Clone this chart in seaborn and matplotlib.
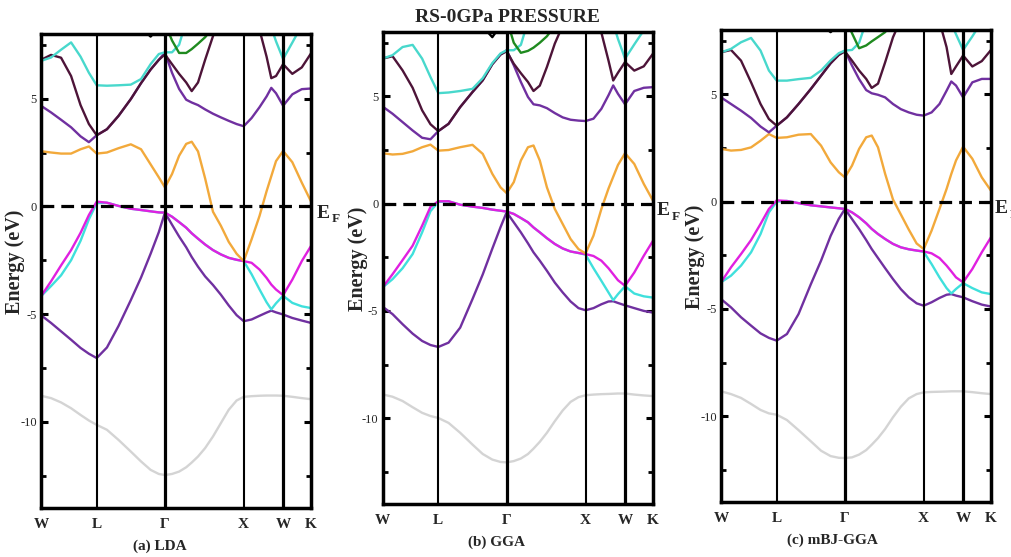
import numpy as np
import pandas as pd
import matplotlib
matplotlib.use("Agg")
import matplotlib.pyplot as plt
import seaborn as sns

# fcc path W-L-Γ-X-W-K, segment lengths in units of 2π/a
SEG_LEN = [0.707, 0.866, 1.0, 0.5, 0.354]
SEG_FRAC = [
    [0, 0.18, 0.36, 0.54, 0.71, 0.86],
    [0, 0.15, 0.32, 0.50, 0.65, 0.79, 0.91],
    [0, 0.09, 0.18, 0.27, 0.34, 0.42, 0.51, 0.61, 0.71, 0.81, 0.91],
    [0, 0.20, 0.40, 0.58, 0.70, 0.82],
    [0, 0.33, 0.67, 1.0],
]
KLABELS = ["W", "L", "Γ", "X", "W", "K"]

# ---- (a) LDA band energies (eV) ----
LDA_CORE = [-8.79, -8.90, -9.10, -9.37, -9.68, -9.94,
            -10.14, -10.37, -10.84, -11.38, -11.84, -12.23, -12.42,
            -12.47, -12.42, -12.31, -12.11, -11.89, -11.61, -11.22, -10.68, -10.06, -9.44, -9.01,
            -8.84, -8.81, -8.79, -8.78, -8.78, -8.78,
            -8.79, -8.84, -8.90, -8.95]
LDA_VB1 = [-5.05, -5.41, -5.80, -6.19, -6.57, -6.84,
           -7.04, -6.55, -5.55, -4.35, -3.30, -2.20, -1.20,
           -0.29, -0.85, -1.40, -1.90, -2.35, -2.80, -3.25, -3.65, -4.10, -4.60, -5.05,
           -5.33, -5.25, -5.08, -4.93, -4.84, -4.92,
           -5.02, -5.18, -5.30, -5.41]
LDA_VB2 = [-4.17, -3.70, -3.20, -2.50, -1.60, -0.60,
           0.15, 0.17, 0.02, -0.11, -0.17, -0.23, -0.28,
           -0.29, -0.48, -0.73, -0.99, -1.25, -1.50, -1.77, -2.03, -2.23, -2.39, -2.48,
           -2.54, -3.15, -3.85, -4.45, -4.78, -4.50,
           -4.15, -4.48, -4.64, -4.72]
LDA_VB3 = [-4.17, -3.48, -2.74, -2.03, -1.23, -0.40,
           0.22, 0.17, 0.02, -0.11, -0.17, -0.23, -0.28,
           -0.29, -0.48, -0.73, -0.99, -1.25, -1.50, -1.77, -2.03, -2.23, -2.39, -2.48,
           -2.54, -2.62, -2.93, -3.32, -3.63, -3.86,
           -4.12, -3.40, -2.54, -1.84]
LDA_CB1 = [2.56, 2.50, 2.45, 2.45, 2.65, 2.78,
           2.45, 2.50, 2.70, 2.88, 2.65, 1.95, 1.35,
           0.88, 1.50, 2.35, 2.90, 3.00, 2.55, 1.30, -0.25, -0.90, -1.65, -2.20,
           -2.54, -1.53, -0.45, 0.70, 1.40, 2.10,
           2.57, 2.05, 1.10, 0.23]
LDA_CB2 = [4.67, 4.36, 4.02, 3.67, 3.25, 2.98,
           3.30, 3.58, 4.20, 4.98, 5.72, 6.35, 6.80,
           7.14, 6.20, 5.45, 4.95, 4.82, 4.70, 4.50, 4.30, 4.13, 3.97, 3.82,
           3.72, 4.10, 4.60, 5.10, 5.50, 5.25,
           4.67, 5.20, 5.44, 5.47]
LDA_CB3 = [6.80, 7.03, 6.90, 6.05, 4.70, 3.82,
           3.30, 3.58, 4.20, 4.98, 5.72, 6.35, 6.80,
           7.05, 6.60, 6.15, 5.75, 5.35, 5.75, 6.80, 7.90, 8.80, 9.50, 10.0,
           10.2, 9.20, 8.20, 6.95, 5.95, 6.05,
           6.60, 6.15, 6.45, 7.10]
LDA_CB4 = [6.75, 6.91, 7.27, 7.61, 6.95, 6.20,
           5.62, 5.60, 5.62, 5.65, 5.91, 6.60, 7.07,
           7.15, 7.15, 7.50, 8.60, 9.30, 9.80, 10.2, 10.5, 10.6, 10.5, 10.3,
           10.0, 9.70, 9.30, 8.80, 8.30, 7.66,
           6.84, 7.60, 8.40, 9.00]
LDA_CB5 = [8.50, 7.70, 7.12, 7.12, 7.30, 7.55, 7.85, 8.30, 8.80]   # from Γ
LDA_CB6 = [8.30, 7.88, 8.30]                                       # near L-Γ midpoint

# ---- (b) GGA ----
GGA_CORE = [-8.89, -9.00, -9.20, -9.49, -9.75, -9.90,
            -9.99, -10.22, -10.68, -11.23, -11.67, -11.93, -12.04,
            -12.06, -12.00, -11.88, -11.67, -11.42, -11.10, -10.68, -10.14, -9.64, -9.24, -9.02,
            -8.93, -8.90, -8.88, -8.87, -8.86, -8.85,
            -8.85, -8.90, -8.94, -8.97]
GGA_VB1 = [-4.80, -5.15, -5.62, -6.06, -6.40, -6.59,
           -6.68, -6.48, -5.78, -4.45, -3.30, -2.10, -1.10,
           -0.40, -0.87, -1.34, -1.85, -2.27, -2.66, -3.13, -3.68, -4.14, -4.56, -4.87,
           -4.97, -4.87, -4.69, -4.56, -4.55, -4.63,
           -4.74, -4.87, -5.00, -5.08]
GGA_VB2 = [-3.91, -3.52, -3.01, -2.35, -1.34, -0.35,
           0.08, 0.11, -0.05, -0.14, -0.20, -0.28, -0.33,
           -0.37, -0.48, -0.67, -0.87, -1.11, -1.34, -1.61, -1.88, -2.09, -2.23, -2.30,
           -2.38, -3.01, -3.60, -4.14, -4.50, -4.22,
           -3.85, -4.19, -4.32, -4.38]
GGA_VB3 = [-3.91, -3.29, -2.63, -1.96, -1.03, -0.15,
           0.11, 0.11, -0.05, -0.14, -0.20, -0.28, -0.33,
           -0.37, -0.48, -0.67, -0.87, -1.11, -1.34, -1.61, -1.88, -2.09, -2.23, -2.30,
           -2.35, -2.44, -2.66, -3.01, -3.29, -3.57,
           -3.83, -3.21, -2.43, -1.73]
GGA_CB1 = [2.35, 2.29, 2.32, 2.44, 2.63, 2.75,
           2.47, 2.50, 2.63, 2.74, 2.32, 1.39, 0.76,
           0.49, 1.00, 2.01, 2.63, 2.71, 2.01, 0.76, -0.25, -0.95, -1.65, -2.12,
           -2.32, -1.49, -0.25, 0.70, 1.25, 1.80,
           2.35, 1.85, 0.92, 0.14]
GGA_CB2 = [4.53, 4.19, 3.80, 3.41, 3.07, 3.00,
           3.38, 3.72, 4.50, 5.20, 5.75, 6.50, 6.95,
           7.15, 6.45, 5.67, 4.97, 4.63, 4.58, 4.45, 4.22, 4.02, 3.91, 3.87,
           3.85, 3.96, 4.42, 5.05, 5.51, 5.12,
           4.63, 5.25, 5.40, 5.43]
GGA_CB3 = [6.76, 6.87, 6.21, 5.40, 4.35, 3.70,
           3.38, 3.72, 4.50, 5.20, 5.75, 6.50, 6.95,
           7.10, 6.52, 6.08, 5.67, 5.25, 5.50, 6.37, 7.46, 8.30, 9.00, 9.60,
           9.80, 8.80, 7.97, 6.67, 5.74, 6.10,
           6.60, 6.20, 6.40, 6.99]
GGA_CB4 = [6.76, 6.92, 7.30, 7.40, 6.76, 5.90,
           5.15, 5.18, 5.25, 5.35, 5.85, 6.55, 7.00,
           7.15, 7.15, 7.40, 8.50, 9.20, 9.70, 10.1, 10.4, 10.5, 10.4, 10.2,
           10.0, 9.60, 9.20, 8.90, 8.40, 7.68,
           6.76, 7.42, 8.08, 8.70]
GGA_CB5 = [8.60, 7.50, 7.03, 7.12, 7.27, 7.50, 7.80, 8.30, 8.90]
GGA_CB6 = [8.25, 7.76, 8.30]

# ---- (c) mBJ-GGA ----
MBJ_CORE = [-8.84, -8.97, -9.15, -9.43, -9.71, -9.87,
            -9.93, -10.18, -10.65, -11.17, -11.61, -11.86, -11.94,
            -11.95, -11.92, -11.79, -11.58, -11.33, -11.02, -10.60, -10.05, -9.56, -9.17, -8.97,
            -8.89, -8.87, -8.86, -8.85, -8.84, -8.84,
            -8.84, -8.88, -8.93, -8.97]
MBJ_VB1 = [-4.54, -4.93, -5.39, -5.78, -6.14, -6.35,
           -6.48, -6.17, -5.24, -3.85, -2.75, -1.60, -0.80,
           -0.34, -0.81, -1.28, -1.79, -2.21, -2.63, -3.10, -3.61, -4.08, -4.46, -4.74,
           -4.85, -4.69, -4.49, -4.34, -4.31, -4.38,
           -4.46, -4.64, -4.80, -4.89]
MBJ_VB2 = [-3.76, -3.45, -2.98, -2.36, -1.51, -0.50,
           0.00, 0.03, -0.07, -0.17, -0.22, -0.27, -0.31,
           -0.34, -0.50, -0.73, -1.01, -1.27, -1.51, -1.74, -1.97, -2.13, -2.22, -2.28,
           -2.34, -2.91, -3.53, -4.03, -4.28, -4.07,
           -3.80, -4.03, -4.23, -4.31]
MBJ_VB3 = [-3.76, -3.06, -2.44, -1.79, -1.04, -0.34,
           0.06, 0.03, -0.07, -0.17, -0.22, -0.27, -0.31,
           -0.34, -0.50, -0.73, -1.01, -1.27, -1.51, -1.74, -1.97, -2.13, -2.22, -2.28,
           -2.32, -2.41, -2.63, -2.98, -3.25, -3.53,
           -3.76, -3.14, -2.36, -1.66]
MBJ_CB1 = [2.46, 2.38, 2.41, 2.53, 2.84, 3.15,
           2.97, 3.00, 3.12, 3.15, 2.61, 1.83, 1.37,
           1.13, 1.68, 2.46, 3.00, 3.08, 2.53, 1.30, 0.10, -0.60, -1.30, -1.95,
           -2.21, -1.35, -0.34, 0.59, 1.29, 1.92,
           2.56, 2.00, 1.13, 0.51]
MBJ_CB2 = [4.86, 4.55, 4.24, 3.90, 3.50, 3.23,
           3.54, 3.93, 4.55, 5.25, 5.87, 6.45, 6.84,
           7.04, 6.34, 5.71, 5.20, 5.05, 4.98, 4.86, 4.55, 4.31, 4.16, 4.05,
           4.01, 4.16, 4.55, 5.17, 5.60, 5.41,
           4.86, 5.56, 5.72, 5.72]
MBJ_CB3 = [6.96, 7.07, 6.57, 5.56, 4.55, 3.85,
           3.54, 3.93, 4.55, 5.25, 5.87, 6.45, 6.84,
           7.00, 6.57, 6.11, 5.72, 5.30, 5.50, 6.49, 7.66, 8.50, 9.20, 9.70,
           9.90, 9.20, 8.40, 7.20, 5.95, 6.30,
           6.81, 6.30, 6.55, 7.07]
MBJ_CB4 = [6.96, 7.12, 7.43, 7.63, 7.04, 6.11,
           5.64, 5.64, 5.71, 5.77, 6.11, 6.58, 6.92,
           7.04, 7.07, 7.40, 8.40, 9.10, 9.60, 10.0, 10.3, 10.4, 10.3, 10.1,
           9.90, 9.50, 9.00, 8.70, 8.30, 7.80,
           7.07, 7.70, 8.40, 9.10]
MBJ_CB5 = [8.60, 7.85, 7.15, 7.28, 7.47, 7.67, 7.90, 8.40, 8.90]
MBJ_CB6 = [8.25, 7.90, 8.25]

PANEL_TITLES = ["(a) LDA", "(b) GGA", "(c) mBJ-GGA"]
SUPTITLE = "RS-0GPa PRESSURE"

BAND_COLORS = {
    "core": "#d4d4d4", "vb1": "#7030a0", "vb2": "#3fe0dc", "vb3": "#e020e0",
    "cb1": "#f2a93b", "cb2": "#7030a0", "cb3": "#4d1438", "cb4": "#48d8cc",
    "cb5": "#1f8a1f", "cb6": "#000000",
}
BAND_ORDER = list(BAND_COLORS)

# k-path coordinates
starts = np.concatenate([[0.0], np.cumsum(SEG_LEN)])
K_NODES = starts
K_PATH = np.concatenate([s + np.array(f) * L for s, f, L in zip(starts[:-1], SEG_FRAC, SEG_LEN)])


def band_frame(bands):
    parts = []
    for name, (vals, start) in bands.items():
        ks = K_PATH[start:start + len(vals)]
        parts.append(pd.DataFrame({"k": ks, "E": vals, "band": name}))
    return pd.concat(parts, ignore_index=True)


panel_bands = [
    {"core": (LDA_CORE, 0), "vb1": (LDA_VB1, 0), "vb2": (LDA_VB2, 0), "vb3": (LDA_VB3, 0),
     "cb1": (LDA_CB1, 0), "cb2": (LDA_CB2, 0), "cb3": (LDA_CB3, 0), "cb4": (LDA_CB4, 0),
     "cb5": (LDA_CB5, 13), "cb6": (LDA_CB6, 10)},
    {"core": (GGA_CORE, 0), "vb1": (GGA_VB1, 0), "vb2": (GGA_VB2, 0), "vb3": (GGA_VB3, 0),
     "cb1": (GGA_CB1, 0), "cb2": (GGA_CB2, 0), "cb3": (GGA_CB3, 0), "cb4": (GGA_CB4, 0),
     "cb5": (GGA_CB5, 13), "cb6": (GGA_CB6, 10)},
    {"core": (MBJ_CORE, 0), "vb1": (MBJ_VB1, 0), "vb2": (MBJ_VB2, 0), "vb3": (MBJ_VB3, 0),
     "cb1": (MBJ_CB1, 0), "cb2": (MBJ_CB2, 0), "cb3": (MBJ_CB3, 0), "cb4": (MBJ_CB4, 0),
     "cb5": (MBJ_CB5, 13), "cb6": (MBJ_CB6, 10)},
]

sns.set_theme(style="ticks")
plt.rcParams["font.family"] = ["Liberation Serif", "DejaVu Serif"]

W, H = 1011, 557
fig = plt.figure(figsize=(W / 100, H / 100), dpi=100)

# axes boxes in pixels: left, top, right, bottom
boxes = [(41, 34, 311, 508), (382.5, 32, 653, 504), (721, 30, 991, 502)]
ylab_x = [-0.058, -0.052, -0.058]
title_x = [0.44, 0.423, 0.411]
ef_x = [1.022, 1.015, 1.015]

for i, (bands, box) in enumerate(zip(panel_bands, boxes)):
    l, t, r, b = box
    ax = fig.add_axes([l / W, (H - b) / H, (r - l) / W, (b - t) / H])
    df = band_frame(bands)
    sns.lineplot(data=df, x="k", y="E", hue="band", hue_order=BAND_ORDER,
                 palette=BAND_COLORS, sort=False, estimator=None, legend=False,
                 linewidth=1.7, ax=ax)

    for kx, lw in zip(K_NODES[1:-1], [1.5, 2.3, 1.5, 2.3]):
        ax.axvline(kx, color="black", lw=lw, zorder=3)
    ax.axhline(0, color="black", lw=2.3, ls=(0, (4, 2.2)), zorder=4)

    ax.set_xlim(K_NODES[0], K_NODES[-1])
    ax.set_ylim(-14, 8)
    ax.set_xticks(K_NODES)
    ax.set_xticklabels(KLABELS, fontweight="bold", fontsize=11)
    ax.tick_params(axis="x", length=0, pad=7)
    ax.set_yticks([-10, -5, 0, 5])
    ax.set_yticklabels(["-10", "-5", "0", "5"], fontsize=9)
    ax.set_yticks([-12.5, -7.5, -2.5, 2.5, 7.5], minor=True)
    ax.tick_params(axis="y", which="both", direction="in", left=True, right=True, pad=3, color="black")
    ax.tick_params(axis="y", which="major", length=5, width=2.2)
    ax.tick_params(axis="y", which="minor", length=3.5, width=2.0)
    for sp in ax.spines.values():
        sp.set_visible(True)
        sp.set_linewidth(2.5)
        sp.set_color("black")
    ax.set_xlabel("")
    ax.set_ylabel("Energy (eV)", fontsize=14.5, fontweight="bold")
    ax.yaxis.set_label_coords(ylab_x[i], 0.52)

    tr = ax.get_yaxis_transform()
    ax.text(ef_x[i], 0.08, "E", transform=tr, ha="left", va="top",
            fontsize=14, fontweight="bold", clip_on=False)
    ax.text(ef_x[i] + 0.056, -0.6, "F", transform=tr, ha="left", va="center",
            fontsize=9.5, fontweight="bold", clip_on=False)

    ax.text(title_x[i], -0.08, PANEL_TITLES[i], transform=ax.transAxes,
            ha="center", va="center", fontsize=11, fontweight="bold")

fig.text(507 / W, 1 - 18 / H, SUPTITLE, ha="center", va="center",
         fontsize=14, fontweight="bold")

fig.savefig("out.png", dpi=100)
